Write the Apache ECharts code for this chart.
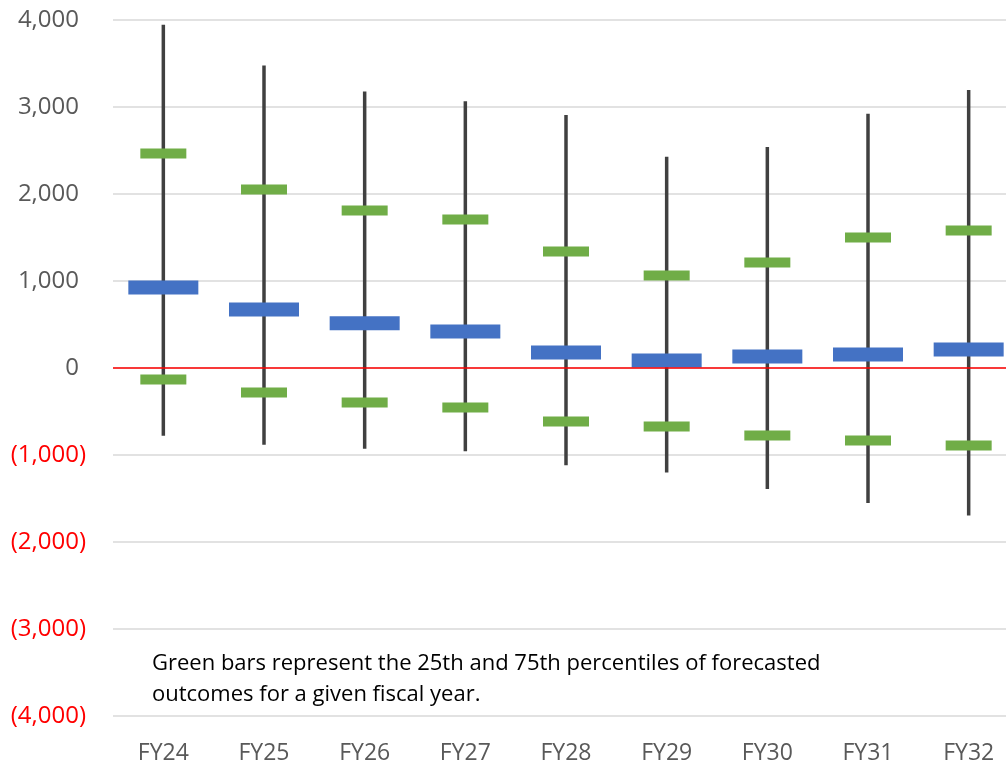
<!DOCTYPE html>
<html>
<head>
<meta charset="utf-8">
<script src="https://cdn.jsdelivr.net/npm/echarts@6/dist/echarts.min.js"></script>
<style>
html,body{margin:0;padding:0;background:#fff;overflow:hidden;}
#chart{width:1019px;height:765px;}
</style>
</head>
<body>
<div id="chart"></div>
<script>
const categories = ['FY24','FY25','FY26','FY27','FY28','FY29','FY30','FY31','FY32'];
const lowValues = [-778, -882, -928, -958, -1119, -1200, -1391, -1552, -1694];
const highValues = [3946, 3478, 3179, 3065, 2908, 2429, 2540, 2923, 3195];
const p25Values = [-132, -282, -397, -454, -615, -672, -776, -833, -891];
const p75Values = [2466, 2052, 1810, 1707, 1339, 1063, 1213, 1500, 1580];
const medianValues = [925, 672, 513, 420, 178, 86, 132, 155, 213];
const noteLines = [
  'Green bars represent the 25th and 75th percentiles of forecasted',
  'outcomes for a given fiscal year.'
];

const FONT = '"Open Sans", "Liberation Sans", sans-serif';
const chart = echarts.init(document.getElementById('chart'), null, {renderer: 'canvas'});

function fmt(v) {
  const s = Math.abs(v).toLocaleString('en-US');
  if (v < 0) return '{n|(' + s + ')}';
  return '{p|' + s + '}';
}

const rangeData = categories.map((c, i) => [i, lowValues[i], highValues[i]]);

chart.setOption({
  animation: false,
  backgroundColor: '#ffffff',
  grid: {left: 113, right: 0, top: 20, bottom: 49, containLabel: false},
  xAxis: {
    type: 'category',
    data: categories,
    axisLine: {show: false},
    axisTick: {show: false},
    axisLabel: {fontFamily: FONT, fontSize: 23, color: '#595959', margin: 26},
    splitLine: {show: false}
  },
  yAxis: {
    type: 'value',
    min: -4000,
    max: 4000,
    interval: 1000,
    axisLine: {show: false},
    axisTick: {show: false},
    splitLine: {show: true, lineStyle: {color: '#d9d9d9', width: 1.5}},
    axisLabel: {
      margin: 27,
      formatter: fmt,
      rich: {
        p: {fontFamily: FONT, fontSize: 24, color: '#595959', padding: [0, 7, 0, 0]},
        n: {fontFamily: FONT, fontSize: 24, color: '#ff0000'}
      }
    }
  },
  graphic: [{
    type: 'text',
    left: 152,
    top: 648,
    z: 100,
    style: {
      text: noteLines.join('\n'),
      font: '22px ' + FONT,
      fill: '#000000',
      lineHeight: 31
    }
  }],
  series: [
    {
      type: 'custom',
      name: 'range',
      data: rangeData,
      encode: {x: 0, y: [1, 2]},
      z: 2,
      renderItem: function (params, api) {
        const x = api.value(0);
        const lo = api.coord([x, api.value(1)]);
        const hi = api.coord([x, api.value(2)]);
        return {
          type: 'line',
          shape: {x1: lo[0], y1: lo[1], x2: hi[0], y2: hi[1]},
          style: {stroke: '#404040', lineWidth: 3.5}
        };
      },
      markLine: {
        silent: true,
        symbol: 'none',
        label: {show: false},
        lineStyle: {color: '#ff0000', width: 1.6, type: 'solid'},
        data: [{yAxis: 0}]
      }
    },
    {
      type: 'scatter',
      name: 'p75',
      data: p75Values,
      symbol: 'rect',
      symbolSize: [46, 10],
      itemStyle: {color: '#70ad47', opacity: 1},
      z: 3
    },
    {
      type: 'scatter',
      name: 'p25',
      data: p25Values,
      symbol: 'rect',
      symbolSize: [46, 10],
      itemStyle: {color: '#70ad47', opacity: 1},
      z: 3
    },
    {
      type: 'scatter',
      name: 'median',
      data: medianValues,
      symbol: 'rect',
      symbolSize: [70, 14],
      itemStyle: {color: '#4472c4', opacity: 1},
      z: 4
    }
  ]
});
</script>
</body>
</html>
